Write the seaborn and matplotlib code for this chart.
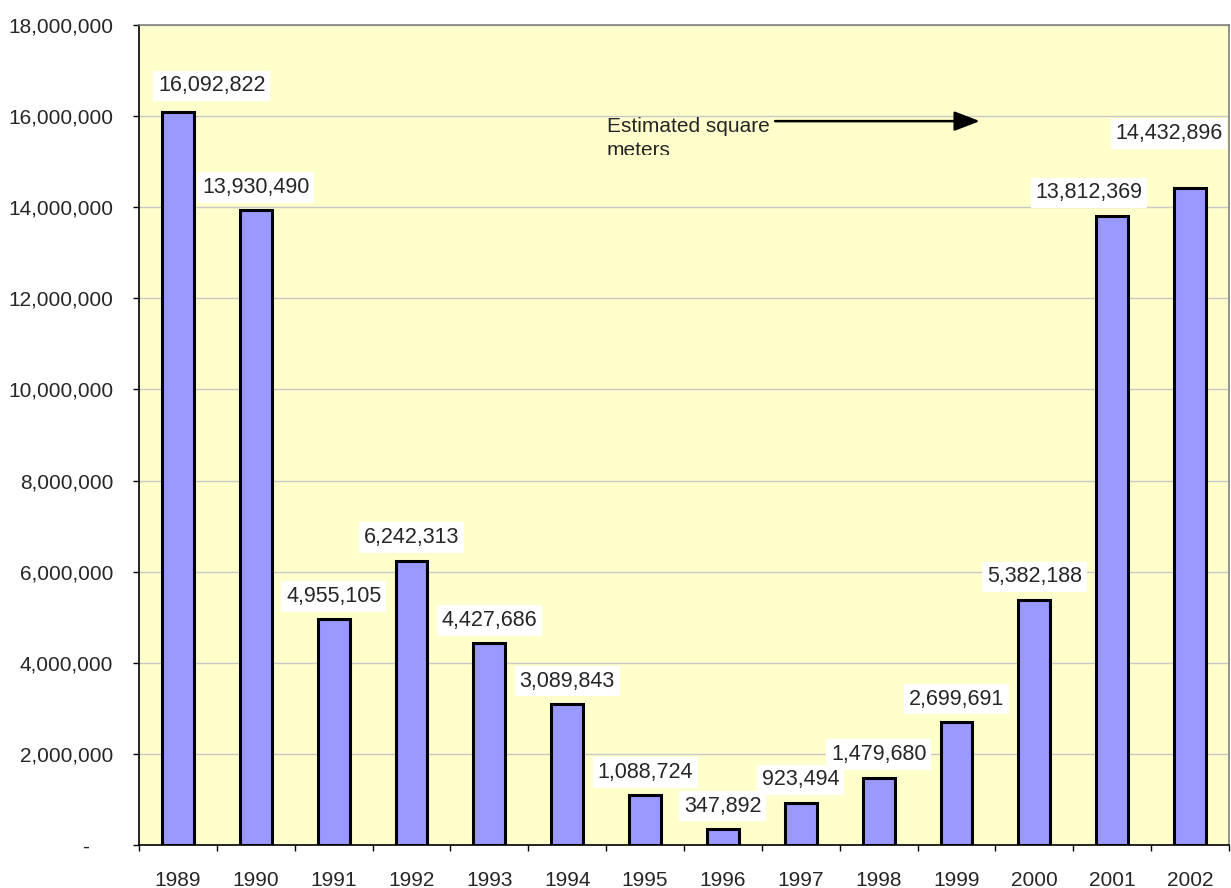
import numpy as np
import pandas as pd
import matplotlib
matplotlib.use("Agg")
import matplotlib.pyplot as plt
from matplotlib.transforms import Bbox, TransformedBbox
import seaborn as sns

# Datos del gráfico
years = ["1989", "1990", "1991", "1992", "1993", "1994", "1995",
         "1996", "1997", "1998", "1999", "2000", "2001", "2002"]
square_meters = [16092822, 13930490, 4955105, 6242313, 4427686, 3089843,
                 1088724, 347892, 923494, 1479680, 2699691, 5382188,
                 13812369, 14432896]
y_ticks = [0, 2000000, 4000000, 6000000, 8000000, 10000000,
           12000000, 14000000, 16000000, 18000000]
note_line_1 = "Estimated square"
note_line_2 = "meters"

df = pd.DataFrame({"year": years, "m2": square_meters})

sns.set_theme(style="white")
plt.rcParams["font.family"] = ["Liberation Sans", "DejaVu Sans"]

fig = plt.figure(figsize=(12.31, 8.88), dpi=100)
ax = fig.add_axes([139 / 1231, 1 - 845 / 888, 1090 / 1231, 820 / 888])
ax.set_facecolor("#FFFFCC")

sns.barplot(data=df, x="year", y="m2", color="#9999FF", saturation=1,
            edgecolor="black", linewidth=2.2, width=0.41, ax=ax, zorder=3)

ax.set_xlim(-0.5, len(years) - 0.5)
ax.set_ylim(0, 18000000)
ax.set_xlabel("")
ax.set_ylabel("")

# Ejes y cuadrícula
ax.set_yticks(y_ticks)
ax.set_yticklabels(["-    "] + [f"{v:,}" for v in y_ticks[1:]], fontsize=15)
ax.yaxis.grid(True, color="#C8C8C8", linewidth=1, zorder=0)
ax.set_axisbelow(True)
ax.tick_params(axis="y", direction="out", length=4.5, width=1, color="black",
               pad=14, left=True)
ax.tick_params(axis="x", which="major", length=0, pad=19, labelsize=15)
ax.set_xticks(np.arange(-0.5, len(years), 1.0), minor=True)
ax.tick_params(axis="x", which="minor", direction="out", length=4.5, width=1,
               color="black", bottom=True)

for side in ["left", "bottom"]:
    ax.spines[side].set_color("black")
    ax.spines[side].set_linewidth(1.2)
for side in ["top", "right"]:
    ax.spines[side].set_color("#808080")
    ax.spines[side].set_linewidth(1.2)

# Etiquetas de valor
offsets = {0: (34, 26), 12: (-23, 23), 13: (-21, 54)}
for i, v in enumerate(square_meters):
    dx, dy = offsets.get(i, (0, 23))
    ax.annotate(f"{v:,}", xy=(i, v), xytext=(dx, dy),
                textcoords="offset pixels", ha="center", va="center",
                fontsize=15.5, zorder=5,
                bbox=dict(boxstyle="square,pad=0.22", fc="white", ec="none"))

# Nota con flecha (cuadro de texto recortado)
ax.text(5.51, 15650000, note_line_1, fontsize=15, ha="left",
        va="baseline", zorder=5)
note_2 = ax.text(5.51, 15120000, note_line_2, fontsize=15, ha="left",
                 va="baseline", zorder=5)
note_2.set_clip_box(TransformedBbox(Bbox([[5.4, 15150000], [8.0, 16700000]]),
                                    ax.transData))
note_2.set_clip_on(True)
ax.annotate("", xy=(10.3, 15890000), xytext=(7.67, 15890000),
            arrowprops=dict(arrowstyle="-|>,head_length=1.3,head_width=0.5",
                            color="black", lw=1.8, shrinkA=0, shrinkB=0),
            zorder=5)

fig.savefig("out.png", dpi=100)
